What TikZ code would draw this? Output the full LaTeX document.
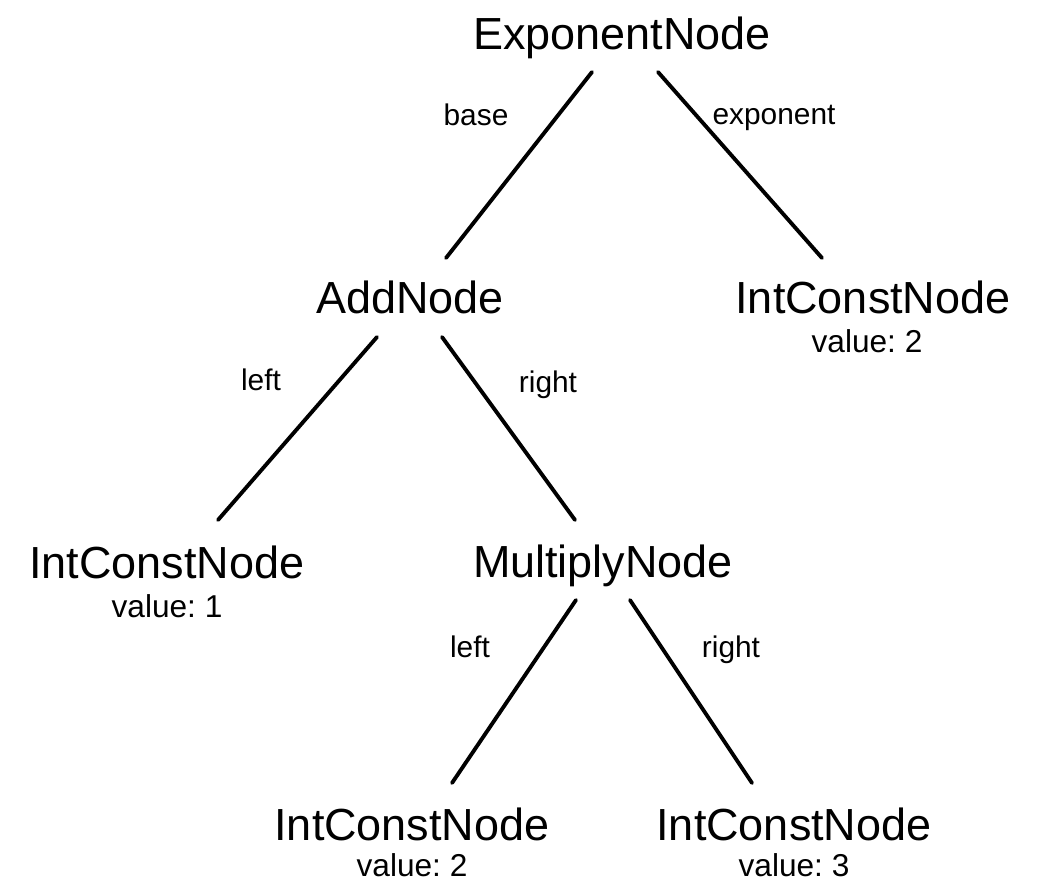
\documentclass[tikz,border=0pt]{standalone}
\usepackage{fontspec}
\setmainfont{Liberation Sans}
\usepackage{tikz}
\usetikzlibrary{calc, positioning}
\frenchspacing

\begin{document}
\begin{tikzpicture}[
  x=0.02cm, y=-0.02cm,
  %% nodos del arbol
  astnode/.style={
    anchor=base, inner sep=0pt,
    font=\fontsize{25.6}{30}\selectfont
  },
  valnode/.style={
    anchor=base, inner sep=0pt,
    font=\fontsize{18}{22}\selectfont
  },
  edgelabel/.style={
    anchor=base, inner sep=0pt,
    font=\fontsize{17}{20}\selectfont
  },
  edge/.style={
    line width=2.2pt, line cap=round, color=black
  }
]
\useasboundingbox (0,0) rectangle (1041,882);

%% ── Nivel 1 ────────────────────────────────────────────
\node[astnode] (expo) at (622, 50) {ExponentNode};

%% ── Nivel 2 ────────────────────────────────────────────
\node[astnode] (add)    at (410, 313) {AddNode};
\node[astnode] (constA) at (873, 313) {IntConstNode};
\node[valnode] (valA)   at ($(constA.base)+(-6,39)$) {value: 2};

%% ── Nivel 3 ────────────────────────────────────────────
\node[astnode] (constB) at (167, 578) {IntConstNode};
\node[valnode] (valB)   at ($(constB.base)+(0,39)$) {value: 1};
\node[astnode] (mult)   at (603, 577) {MultiplyNode};

%% ── Nivel 4 ────────────────────────────────────────────
\node[astnode] (constC) at (412, 840) {IntConstNode};
\node[valnode] (valC)   at ($(constC.base)+(0,36)$) {value: 2};
\node[astnode] (constD) at (794, 840) {IntConstNode};
\node[valnode] (valD)   at ($(constD.base)+(0,36)$) {value: 3};

%% ────────────────── ARISTAS ────────────────────────────
\draw[edge] ($(expo.base)+(-30,22)$) -- ($(add.base)+(36,-55)$);
\draw[edge] ($(expo.base)+(36,22)$)  -- ($(constA.base)+(-51,-55)$);
\draw[edge] ($(add.base)+(-33,24)$)  -- ($(constB.base)+(51,-58)$);
\draw[edge] ($(add.base)+(32,24)$)   -- ($(mult.base)+(-28,-57)$);
\draw[edge] ($(mult.base)+(-27,23)$) -- ($(constC.base)+(40,-57)$);
\draw[edge] ($(mult.base)+(27,23)$)  -- ($(constD.base)+(-42,-57)$);

%% etiquetas de las aristas
\node[edgelabel] (lbase) at (476, 126) {base};
\node[edgelabel] (lexp)  at (774, 125) {exponent};
\node[edgelabel] (laddl) at (261, 390) {left};
\node[edgelabel] (laddr) at (548, 392) {right};
\node[edgelabel] (lmull) at (470, 657) {left};
\node[edgelabel] (lmulr) at (731, 657) {right};

\end{tikzpicture}
\end{document}
